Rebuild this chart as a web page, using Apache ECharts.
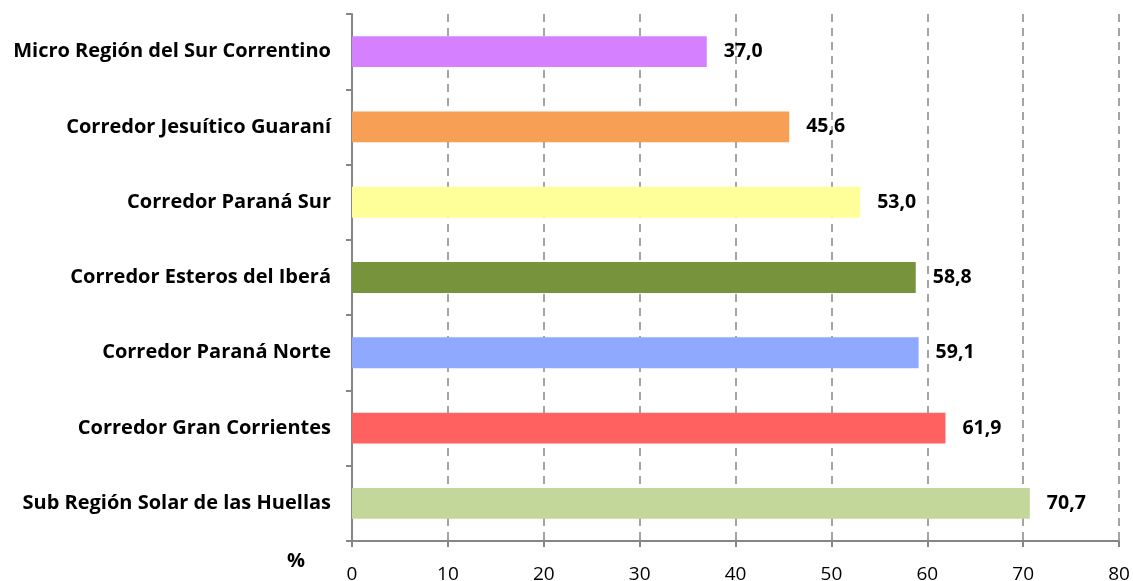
<!DOCTYPE html>
<html>
<head>
<meta charset="utf-8">
<script src="https://cdn.jsdelivr.net/npm/echarts@6/dist/echarts.min.js"></script>
<style>
  html, body { margin: 0; padding: 0; background: #fff; }
  #chart { width: 1133px; height: 581px; }
</style>
</head>
<body>
<div id="chart"></div>
<script>
// categories from bottom to top (category axis runs upward)
var regions = [
  'Sub Región Solar de las Huellas',
  'Corredor Gran Corrientes',
  'Corredor Paraná Norte',
  'Corredor Esteros del Iberá',
  'Corredor Paraná Sur',
  'Corredor Jesuítico Guaraní',
  'Micro Región del Sur Correntino'
];
var percents = [70.7, 61.9, 59.1, 58.8, 53.0, 45.6, 37.0];
var barColors = ['#c4d79b', '#ff6161', '#8ea9ff', '#77933c', '#ffff99', '#f7a055', '#d580ff'];
var xTicks = [0, 10, 20, 30, 40, 50, 60, 70, 80];

var font = '"Open Sans", sans-serif';

echarts.init(document.getElementById('chart')).setOption({
  backgroundColor: '#fff',
  animation: false,
  grid: {
    left: 352,
    right: 14,
    top: 14,
    bottom: 40,
    outerBoundsMode: 'none',
    containLabel: false
  },
  xAxis: {
    type: 'value',
    min: xTicks[0],
    max: xTicks[xTicks.length - 1],
    interval: 10,
    axisLine: { show: true, lineStyle: { color: '#868686', width: 2 } },
    axisTick: { show: true, length: 6, lineStyle: { color: '#868686', width: 2 } },
    axisLabel: { color: '#000', fontSize: 19, fontFamily: font, margin: 24 },
    splitLine: {
      show: true,
      lineStyle: { color: '#868686', type: [8, 6], width: 1.5 }
    }
  },
  yAxis: {
    type: 'category',
    data: regions,
    axisLine: { show: true, lineStyle: { color: '#868686', width: 2 } },
    axisTick: { show: true, length: 6, lineStyle: { color: '#868686', width: 2 } },
    axisLabel: { color: '#000', fontSize: 20, fontWeight: 'bold', fontFamily: font, margin: 21 }
  },
  graphic: [{
    type: 'text',
    left: 287,
    top: 551,
    style: { text: '%', fill: '#000', font: 'bold 20px ' + font }
  }],
  series: [{
    type: 'bar',
    barCategoryGap: '59%',
    data: percents.map(function (v, i) {
      return { value: v, itemStyle: { color: barColors[i] } };
    }),
    label: {
      show: true,
      position: 'right',
      distance: 17,
      color: '#000',
      fontSize: 19.5,
      fontWeight: 'bold',
      fontFamily: font,
      formatter: function (p) { return p.value.toFixed(1).replace('.', ','); }
    }
  }]
});
</script>
</body>
</html>
